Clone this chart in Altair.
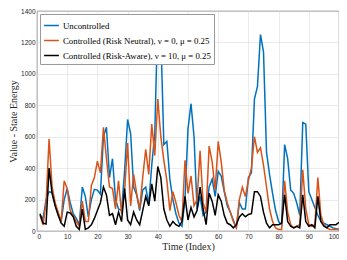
import altair as alt
import pandas as pd

names = [
    "Uncontrolled",
    "Controlled (Risk Neutral), ν = 0, μ = 0.25",
    "Controlled (Risk-Aware), ν = 10, μ = 0.25",
]
colors = ["#0072BD", "#D95319", "#000000"]

t = list(range(1, 101))

uncontrolled = [100, 80, 200, 250, 245, 170, 110, 60, 200, 270,
                180, 110, 80, 40, 280, 220, 90, 200, 265, 260,
                235, 600, 660, 340, 460, 200, 140, 130, 380, 710,
                620, 280, 230, 130, 260, 280, 170, 420, 620, 1380,
                1260, 550, 570, 330, 200, 110, 50, 30, 200, 650,
                810, 600, 140, 220, 100, 120, 280, 330, 220, 380,
                350, 250, 160, 120, 70, 20, 180, 140, 140, 340,
                370, 840, 920, 1250, 1140, 500, 360, 240, 130, 60,
                40, 550, 460, 260, 240, 180, 100, 690, 680, 250,
                200, 150, 100, 60, 50, 40, 30, 20, 15, 10]

risk_neutral = [100, 38, 180, 585, 280, 180, 120, 60, 320, 270,
                130, 100, 60, 30, 190, 60, 60, 290, 340, 445,
                370, 660, 460, 280, 270, 140, 320, 110, 250, 560,
                160, 360, 240, 140, 340, 520, 360, 680, 480, 840,
                600, 450, 320, 130, 250, 180, 100, 60, 450, 240,
                350, 160, 200, 510, 180, 120, 540, 440, 260, 570,
                440, 260, 180, 120, 60, 20, 200, 280, 220, 320,
                400, 600, 500, 530, 420, 280, 140, 60, 20, 10,
                10, 320, 120, 40, 20, 30, 40, 390, 140, 40,
                30, 40, 340, 100, 40, 20, 10, 10, 10, 10]

risk_aware = [110, 50, 45, 400, 240, 160, 100, 50, 30, 120,
              115, 90, 30, 10, 140, 10, 20, 40, 80, 130,
              180, 280, 230, 100, 110, 40, 120, 60, 270, 70,
              40, 120, 70, 40, 130, 220, 160, 300, 190, 410,
              340, 140, 70, 30, 60, 40, 30, 60, 220, 70,
              150, 90, 130, 280, 140, 40, 240, 190, 100, 230,
              190, 100, 50, 40, 20, 40, 90, 110, 90, 105,
              110, 250, 250, 220, 120, 50, 20, 40, 40, 40,
              50, 230, 60, 30, 20, 30, 20, 230, 60, 30,
              40, 20, 220, 60, 30, 20, 40, 40, 40, 55]

rows = []
for name, vals in zip(names, [uncontrolled, risk_neutral, risk_aware]):
    for ti, v in zip(t, vals):
        rows.append({"t": ti, "v": v, "s": name})
df = pd.DataFrame(rows)

chart = alt.Chart(df).mark_line(clip=True).encode(
    x=alt.X("t:Q", scale=alt.Scale(domain=[0, 100], nice=False),
            axis=alt.Axis(values=list(range(0, 101, 10)), format="d", title="Time (Index)")),
    y=alt.Y("v:Q", scale=alt.Scale(domain=[0, 1400], nice=False),
            axis=alt.Axis(values=list(range(0, 1401, 200)), format="d", title="Value - State Energy")),
    color=alt.Color("s:N", scale=alt.Scale(domain=names, range=colors),
                    legend=alt.Legend(title=None)),
    strokeWidth=alt.StrokeWidth("s:N", scale=alt.Scale(domain=names, range=[1.5, 1.5, 2.2]),
                                legend=None),
).properties(
    width=331, height=244, padding=0,
    autosize=alt.AutoSizeParams(type="fit", contains="padding")
).configure_view(
    stroke="#262626", strokeWidth=0.8
).configure_axis(
    labelFont="Liberation Sans", labelFontSize=6.5, labelColor="#262626",
    titleFont="Liberation Serif", titleFontSize=10, titleFontWeight="normal",
    titleColor="#262626", gridColor="#e3e3e3", gridWidth=0.7,
    domain=False, ticks=False, labelPadding=2, titlePadding=2
).configure_legend(
    orient="top-left", offset=3, fillColor="white", strokeColor="#9a9a9a",
    padding=3, symbolType="stroke", symbolSize=220, symbolStrokeWidth=1.8,
    labelFont="Liberation Serif", labelFontSize=8.8, labelColor="#000000",
    labelLimit=400, rowPadding=1, labelOffset=3, cornerRadius=0
)

chart.save("out.html", embed_options={"renderer": "svg", "actions": False})
